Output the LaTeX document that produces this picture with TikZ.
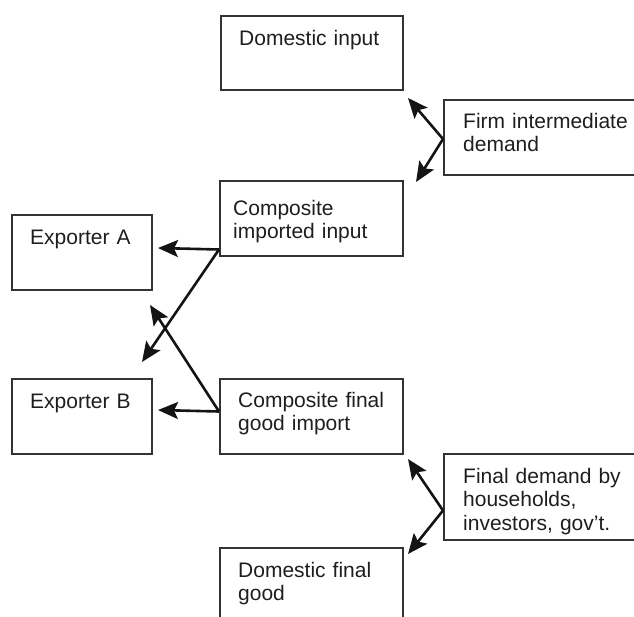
\documentclass[tikz,border=0pt]{standalone}
\usepackage{fontspec}
\setmainfont{Liberation Sans}
\usetikzlibrary{arrows.meta,calc}
\definecolor{boxgray}{HTML}{333333}
\definecolor{txtgray}{HTML}{1E1E1E}
\definecolor{arrowblk}{HTML}{141414}
\begin{document}
\begin{tikzpicture}[x=1pt,y=-1pt,
  box/.style={draw=boxgray, line width=1.5pt, rectangle, inner sep=0pt, anchor=north west},
  lbl/.style={anchor=base west, inner sep=0pt, text width=180pt, align=left,
    font=\fontsize{21}{23.5}\selectfont, text=txtgray},
  flow/.style={draw=arrowblk, line width=2.6pt,
    -{Stealth[length=20pt 0,width=17pt 0,inset=4pt 0]}}]
\clip (0,0) rectangle (634,616);

% boxes
\node[box, minimum width=182pt, minimum height=74pt] (dinp) at (220,15) {};
\node[box, minimum width=200pt, minimum height=75pt] (firm) at (443,99) {};
\node[box, minimum width=183pt, minimum height=75pt] (cimp) at (219,180) {};
\node[box, minimum width=140pt, minimum height=75pt] (expa) at (11,214) {};
\node[box, minimum width=140pt, minimum height=75pt] (expb) at (11,378) {};
\node[box, minimum width=183pt, minimum height=75pt] (cfin) at (219,378) {};
\node[box, minimum width=200pt, minimum height=86pt] (fdem) at (443,453) {};
\node[box, minimum width=183pt, minimum height=80pt] (dfin) at (219,547) {};

% labels
\node[lbl] (tdinp) at (239,45) {Domestic input};
\node[lbl] (tfirm) at (463,128) {Firm intermediate\\demand};
\node[lbl] (tcimp) at (233,215) {Composite\\imported input};
\node[lbl] (texpa) at (30,244) {Exporter A};
\node[lbl] (texpb) at (30,408) {Exporter B};
\node[lbl] (tcfin) at (238,407) {Composite final\\good import};
\node[lbl] (tfdem) at (463,483) {Final demand by\\households,\\investors, gov’t.};
\node[lbl] (tdfin) at (238,577) {Domestic final\\good};

% arrow ends
\coordinate (firmsrc) at ($(firm.north west)+(0,40)$);
\coordinate (fdemsrc) at ($(fdem.south west)+(0,-30)$);
\coordinate (cimpsrc) at ($(cimp.south west)+(0,-7)$);
\coordinate (cfinsrc) at ($(cfin.south west)+(0,-43)$);
\coordinate (toDinp) at (408,98);
\coordinate (toCimp) at (416,182);
\coordinate (toCfin) at (408,459);
\coordinate (toDfin) at (408,554);
\coordinate (toExpA) at (158,248);
\coordinate (toExpB) at (142,362);
\coordinate (toExpAx) at (150,305);
\coordinate (toExpBh) at (158,410);

% flows
\draw[flow] (firmsrc) -- (toDinp);
\draw[flow] (firmsrc) -- (toCimp);
\draw[flow] (fdemsrc) -- (toCfin);
\draw[flow] (fdemsrc) -- (toDfin);
\draw[flow] (cimpsrc) -- (toExpA);
\draw[flow] (cimpsrc) -- (toExpB);
\draw[flow] (cfinsrc) -- (toExpAx);
\draw[flow] (cfinsrc) -- (toExpBh);
\end{tikzpicture}
\end{document}
